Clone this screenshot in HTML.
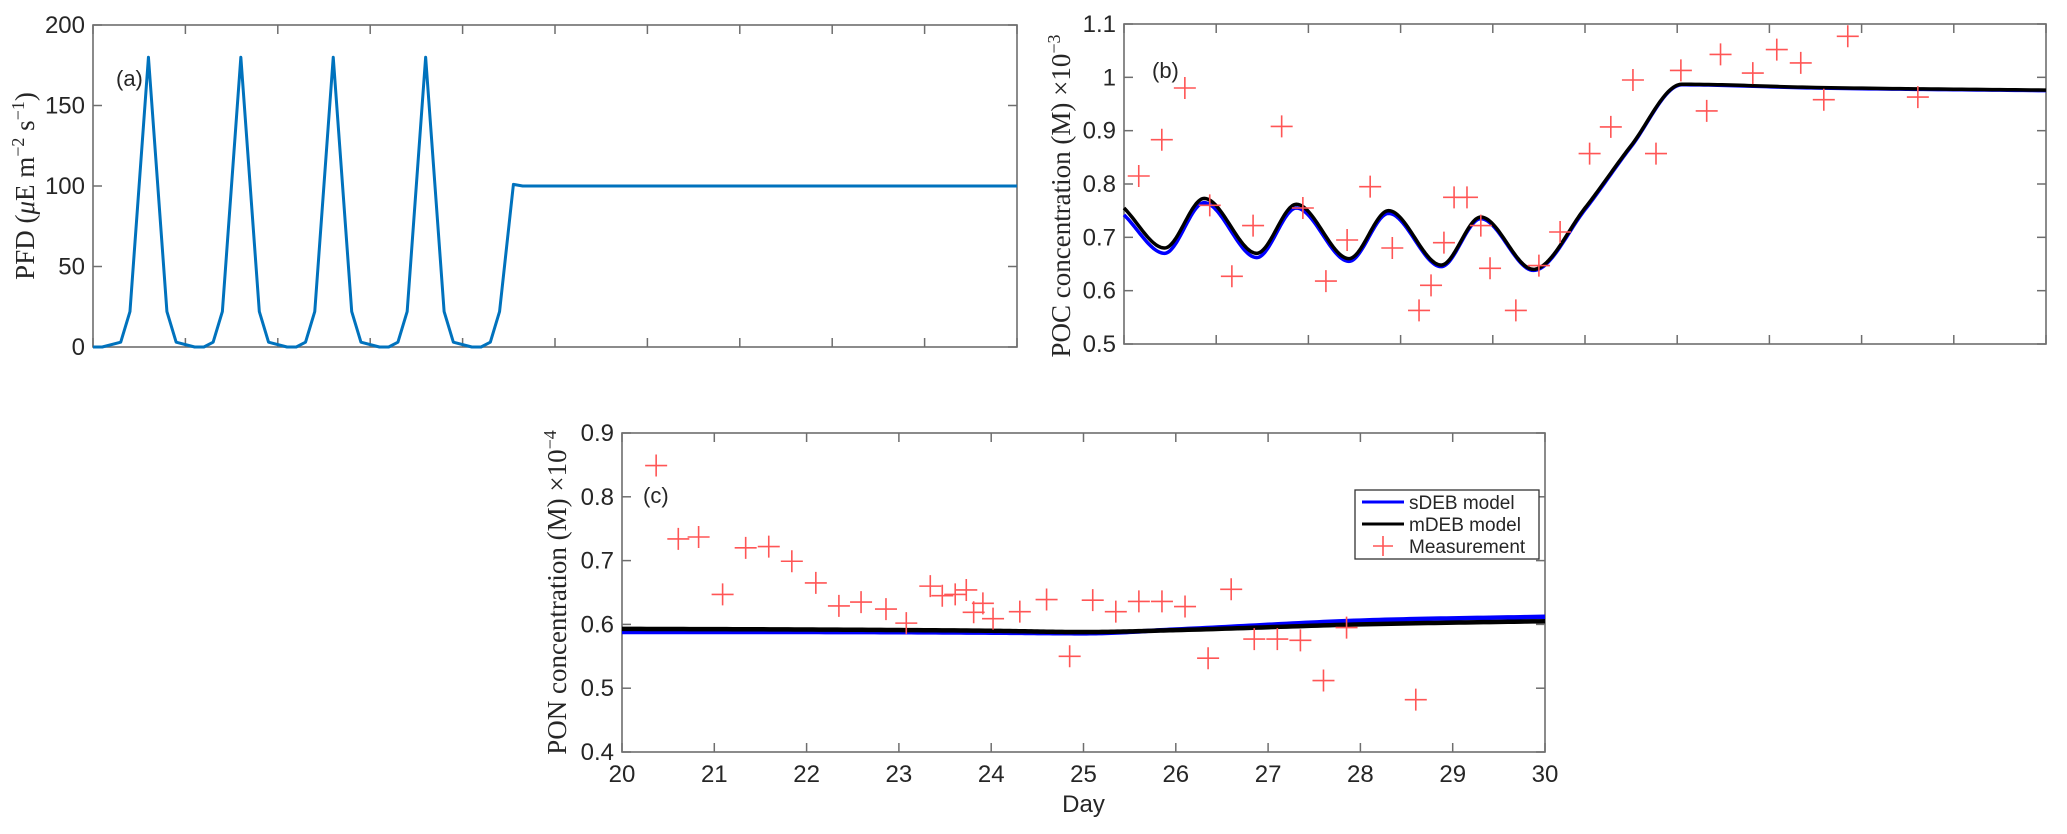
<!DOCTYPE html>
<html><head><meta charset="utf-8"><style>
body{margin:0;background:#fff;}
svg{display:block;}
.tk{font-family:"Liberation Sans",sans-serif;font-size:24px;fill:#262626;}
.lab{font-family:"Liberation Serif",serif;font-size:27px;fill:#262626;}
</style></head><body>
<svg id="fig" width="2067" height="834" viewBox="0 0 2067 834" xmlns="http://www.w3.org/2000/svg"></svg>
<script>
// ---- data ----
const pfdDays=[0,0.1,0.3,0.4,0.6,0.8,0.9,1.1,1.2,1.3,1.4,1.6,1.8,1.9,2.1,2.2,2.3,2.4,2.6,2.8,2.9,3.1,3.2,3.3,3.4,3.6,3.8,3.9,4.1,4.2,4.3,4.4,4.55,4.65,10];
const pfdValues=[0,0,3,22,180,22,3,0,0,3,22,180,22,3,0,0,3,22,180,22,3,0,0,3,22,180,22,3,0,0,3,22,101,100,100];
const pocKnotDays=[20,20.44,20.87,21.44,21.87,22.44,22.87,23.44,23.87,24.44,25.0,25.5,26.05,27.5,30];
const pocBlack=[0.755,0.68,0.773,0.67,0.762,0.66,0.75,0.648,0.738,0.64,0.755,0.872,0.987,0.981,0.976];
const pocBlue=[0.742,0.67,0.765,0.662,0.755,0.655,0.745,0.645,0.735,0.638,0.752,0.870,0.986,0.980,0.975];
const pocMeasDays=[20.16,20.41,20.66,20.93,21.17,21.40,21.71,21.94,22.19,22.42,22.67,22.91,23.20,23.33,23.47,23.58,23.72,23.87,23.97,24.25,24.50,24.73,25.05,25.28,25.52,25.77,26.04,26.32,26.47,26.82,27.08,27.34,27.59,27.85,28.61];
const pocMeas=[0.815,0.883,0.98,0.76,0.627,0.722,0.908,0.755,0.618,0.695,0.795,0.68,0.563,0.61,0.69,0.775,0.775,0.722,0.642,0.563,0.647,0.71,0.857,0.907,0.995,0.857,1.013,0.937,1.043,1.008,1.052,1.027,0.958,1.077,0.963];
const ponKnotDays=[20,22,24,25,26,28,30];
const ponBlue=[0.588,0.588,0.587,0.586,0.592,0.606,0.612];
const ponBlack=[0.593,0.592,0.590,0.588,0.591,0.600,0.605];
const ponMeasDays=[20.37,20.61,20.83,21.09,21.34,21.59,21.84,22.10,22.35,22.59,22.86,23.08,23.34,23.47,23.61,23.73,23.81,23.91,24.02,24.31,24.60,24.85,25.10,25.35,25.60,25.85,26.10,26.35,26.60,26.85,27.10,27.35,27.60,27.85,28.60];
const ponMeas=[0.849,0.734,0.737,0.647,0.720,0.722,0.699,0.665,0.629,0.635,0.624,0.602,0.660,0.645,0.647,0.654,0.619,0.633,0.609,0.620,0.639,0.550,0.638,0.620,0.636,0.636,0.628,0.547,0.655,0.577,0.577,0.575,0.512,0.595,0.482];
const aTicks=[0,50,100,150,200];
const bTicks=[0.5,0.6,0.7,0.8,0.9,1.0,1.1];
const bTickLabels=["0.5","0.6","0.7","0.8","0.9","1","1.1"];
const cTicks=[0.4,0.5,0.6,0.7,0.8,0.9];
const xTicks=[20,21,22,23,24,25,26,27,28,29,30];

const NS="http://www.w3.org/2000/svg";
const svg=document.getElementById('fig');
function mk(tag,attrs,parent){const e=document.createElementNS(NS,tag);for(const k in attrs)e.setAttribute(k,attrs[k]);(parent||svg).appendChild(e);return e;}
function scale(d0,d1,r0,r1){return v=>r0+(v-d0)/(d1-d0)*(r1-r0);}
function monotone(xs,ys,n){
  const m=xs.length,d=[],t=[];
  for(let i=0;i<m-1;i++)d.push((ys[i+1]-ys[i])/(xs[i+1]-xs[i]));
  for(let i=0;i<m;i++){
    if(i===0)t.push(d[0]);else if(i===m-1)t.push(d[m-2]);
    else t.push(d[i-1]*d[i]<=0?0:(d[i-1]+d[i])/2);
  }
  for(let i=0;i<m-1;i++){if(d[i]===0){t[i]=0;t[i+1]=0;continue;}const a=t[i]/d[i],b=t[i+1]/d[i],s=a*a+b*b;if(s>9){const q=3/Math.sqrt(s);t[i]=q*a*d[i];t[i+1]=q*b*d[i];}}
  const out=[];
  for(let i=0;i<m-1;i++){const h=xs[i+1]-xs[i];for(let k=0;k<n;k++){const u=k/n,h00=2*u*u*u-3*u*u+1,h10=u*u*u-2*u*u+u,h01=-2*u*u*u+3*u*u,h11=u*u*u-u*u;out.push([xs[i]+u*h,h00*ys[i]+h10*h*t[i]+h01*ys[i+1]+h11*h*t[i+1]]);}}
  out.push([xs[m-1],ys[m-1]]);return out;
}
function frame(g,L,R,T,B,xt,yt){
  mk('rect',{x:L,y:T,width:R-L,height:B-T,fill:'none',stroke:'#6e6e6e','stroke-width':1.6},g);
  xt.forEach(px=>{mk('line',{x1:px,x2:px,y1:B,y2:B-9,stroke:'#6e6e6e','stroke-width':1.5},g);mk('line',{x1:px,x2:px,y1:T,y2:T+9,stroke:'#6e6e6e','stroke-width':1.5},g);});
  yt.forEach(py=>{mk('line',{x1:L,x2:L+9,y1:py,y2:py,stroke:'#6e6e6e','stroke-width':1.5},g);mk('line',{x1:R,x2:R-9,y1:py,y2:py,stroke:'#6e6e6e','stroke-width':1.5},g);});
}
function cross(g,x,y){const p=mk('path',{d:`M${x-11},${y}H${x+11}M${x},${y-11}V${y+11}`,stroke:'#ff5555','stroke-width':1.6,fill:'none'},g);return p;}

// ---- panel a ----
(function(){
  const L=93,R=1017,T=25,B=347;
  const g=mk('g',{});  
  const x=scale(0,10,L,R),y=scale(0,200,B,T);
  const xt=[];for(let i=0;i<=10;i++)xt.push(x(i));
  frame(g,L,R,T,B,xt,aTicks.map(y));
  aTicks.forEach(v=>{const t=mk('text',{x:L-8,y:y(v)+8,'text-anchor':'end',class:'tk'},g);t.textContent=v;});
  const pl=mk('polyline',{points:pfdDays.map((d,i)=>x(d)+','+y(pfdValues[i])).join(' '),fill:'none',stroke:'#0072BD','stroke-width':3,'stroke-linejoin':'round'},g);
  
  const lb=mk('text',{x:116,y:86,class:'tk',style:'font-size:22px'},g);lb.textContent='(a)';
  const yl=mk('text',{transform:`translate(34,${(T+B)/2}) rotate(-90)`,'text-anchor':'middle',class:'lab'},g);
  yl.innerHTML='PFD (<tspan font-style="italic">μ</tspan>E m<tspan dy="-10" font-size="18">−2</tspan><tspan dy="10"> s</tspan><tspan dy="-10" font-size="18">−1</tspan><tspan dy="10">)</tspan>';
  
})();

// ---- panel b ----
(function(){
  const L=1124,R=2046,T=24,B=344;
  const g=mk('g',{});  
  const x=scale(20,30,L,R),y=scale(0.5,1.1,B,T);
  frame(g,L,R,T,B,xTicks.map(x),bTicks.map(y));
  bTicks.forEach((v,i)=>{const t=mk('text',{x:L-8,y:y(v)+8,'text-anchor':'end',class:'tk'},g);t.textContent=bTickLabels[i];});
  const cb=monotone(pocKnotDays,pocBlue,30);
  const l1=mk('polyline',{points:cb.map(p=>x(p[0])+','+y(p[1])).join(' '),fill:'none',stroke:'#0000ff','stroke-width':3.5},g);
  
  const ck=monotone(pocKnotDays,pocBlack,30);
  const l2=mk('polyline',{points:ck.map(p=>x(p[0])+','+y(p[1])).join(' '),fill:'none',stroke:'#000','stroke-width':3.5},g);
  
  pocMeasDays.forEach((d,i)=>{const p=cross(g,x(d),y(pocMeas[i]));});
  const lb=mk('text',{x:1152,y:78,class:'tk',style:'font-size:22px'},g);lb.textContent='(b)';
  const yl=mk('text',{transform:`translate(1070,${(T+B)/2+12}) rotate(-90)`,'text-anchor':'middle',class:'lab'},g);
  yl.innerHTML='POC concentration (M) ×10<tspan dy="-10" font-size="18">−3</tspan>';
  
})();

// ---- panel c ----
(function(){
  const L=622,R=1545,T=433,B=752;
  const g=mk('g',{});  
  const x=scale(20,30,L,R),y=scale(0.4,0.9,B,T);
  frame(g,L,R,T,B,xTicks.map(x),cTicks.map(y));
  cTicks.forEach(v=>{const t=mk('text',{x:L-8,y:y(v)+8,'text-anchor':'end',class:'tk'},g);t.textContent=v.toFixed(1);});
  xTicks.forEach(v=>{const t=mk('text',{x:x(v),y:B+30,'text-anchor':'middle',class:'tk'},g);t.textContent=v;});
  const cb=monotone(ponKnotDays,ponBlue,30);
  const l1=mk('polyline',{points:cb.map(p=>x(p[0])+','+y(p[1])).join(' '),fill:'none',stroke:'#0000ff','stroke-width':4.5},g);
  
  const ck=monotone(ponKnotDays,ponBlack,30);
  const l2=mk('polyline',{points:ck.map(p=>x(p[0])+','+y(p[1])).join(' '),fill:'none',stroke:'#000','stroke-width':4.5},g);
  
  ponMeasDays.forEach((d,i)=>{const p=cross(g,x(d),y(ponMeas[i]));});
  const lb=mk('text',{x:643,y:503,class:'tk',style:'font-size:22px'},g);lb.textContent='(c)';
  const xl=mk('text',{x:(L+R)/2,y:B+60,'text-anchor':'middle',class:'tk'},g);xl.textContent='Day';
  const yl=mk('text',{transform:`translate(566,${(T+B)/2}) rotate(-90)`,'text-anchor':'middle',class:'lab'},g);
  yl.innerHTML='PON concentration (M) ×10<tspan dy="-10" font-size="18">−4</tspan>';
  
  // legend
  const lg=mk('g',{},g);
  mk('rect',{x:1355,y:490,width:184,height:69,fill:'#fff',stroke:'#333','stroke-width':1.3},lg);
  const items=[['sDEB model','#0000ff','line'],['mDEB model','#000','line'],['Measurement','#ff5555','cross']];
  items.forEach((it,i)=>{const cy=502+i*22;const e=mk('g',{},lg);
    
    if(it[2]==='line')mk('line',{x1:1362,x2:1404,y1:cy,y2:cy,stroke:it[1],'stroke-width':3},e);
    else mk('path',{d:`M1373,${cy}H1393M1383,${cy-10}V${cy+10}`,stroke:it[1],'stroke-width':1.6},e);
    const t=mk('text',{x:1409,y:cy+7,class:'tk',style:'font-size:19px'},e);t.textContent=it[0];});
})();
</script>
</body></html>
